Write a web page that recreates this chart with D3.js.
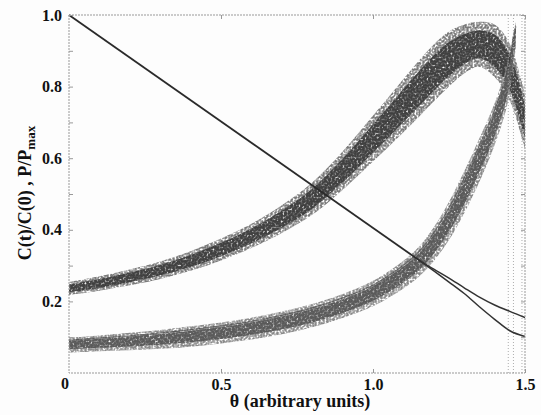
<!DOCTYPE html>
<html>
<head>
<meta charset="utf-8">
<script src="https://cdn.jsdelivr.net/npm/d3@7"></script>
<style>
    body { margin: 0; background: #fdfdfd; }
    svg { display: block; }
</style>
</head>
<body>
<svg id="chart" width="541" height="415" font-family="Liberation Serif, DejaVu Serif, Times, serif" font-weight="bold"></svg>
<script>
// C(t)/C(0): straight decay, then it splits in two branches
const cMainX = [0, 1.15];
const cMainY = [1.0, 0.316];
const cBranchX = [1.15, 1.2, 1.25, 1.3, 1.35, 1.4, 1.45, 1.5];
const cBranchUpY = [0.316, 0.29, 0.265, 0.238, 0.212, 0.19, 0.172, 0.155];
const cBranchLowY = [0.316, 0.285, 0.254, 0.222, 0.185, 0.15, 0.118, 0.102];

// P/Pmax, upper band (centre and vertical half width)
const pUpX = [0, 0.1, 0.2, 0.3, 0.4, 0.5, 0.6, 0.7, 0.8, 0.9, 1.0, 1.05, 1.1, 1.15, 1.2, 1.25, 1.3, 1.35, 1.4, 1.45, 1.5];
const pUpMid = [0.236, 0.25, 0.267, 0.287, 0.313, 0.345, 0.383, 0.43, 0.487, 0.565, 0.655, 0.7, 0.747, 0.793, 0.838, 0.877, 0.905, 0.918, 0.9, 0.84, 0.70];
const pUpHalf = [0.017, 0.019, 0.021, 0.023, 0.026, 0.029, 0.032, 0.037, 0.043, 0.051, 0.061, 0.066, 0.071, 0.075, 0.076, 0.073, 0.065, 0.06, 0.07, 0.076, 0.072];

// P/Pmax, lower band (several runs overlapping)
const pLowX = [0, 0.1, 0.2, 0.3, 0.4, 0.5, 0.6, 0.7, 0.8, 0.9, 1.0, 1.1, 1.15, 1.2, 1.25, 1.3, 1.35, 1.4, 1.44, 1.46, 1.47];
const pLowMid = [0.078, 0.083, 0.088, 0.094, 0.102, 0.112, 0.124, 0.14, 0.16, 0.187, 0.222, 0.275, 0.31, 0.36, 0.425, 0.505, 0.595, 0.695, 0.8, 0.895, 0.945];
const pLowHalf = [0.02, 0.021, 0.023, 0.025, 0.027, 0.028, 0.029, 0.03, 0.031, 0.032, 0.034, 0.037, 0.04, 0.045, 0.051, 0.056, 0.058, 0.056, 0.054, 0.047, 0.033];

// faint vertical traces at the right edge
const dropX = [1.445, 1.462, 1.49];

const xTicks = [0.5, 1.0, 1.5];
const yTicks = [0.1, 0.2, 0.3, 0.4, 0.5, 0.6, 0.7, 0.8, 0.9, 1.0];

const svg = d3.select('#chart');
const margin = {top: 15, right: 16, bottom: 42, left: 69};
const width = +svg.attr('width') - margin.left - margin.right;
const height = +svg.attr('height') - margin.top - margin.bottom;

const defs = svg.append('defs');
function grainFilter(id, freq, seed, gain, offset, blur) {
    const f = defs.append('filter').attr('id', id)
        .attr('x', '-5%').attr('y', '-5%').attr('width', '110%').attr('height', '110%');
    f.append('feTurbulence').attr('type', 'fractalNoise').attr('baseFrequency', freq)
        .attr('numOctaves', 3).attr('seed', seed).attr('result', 'n');
    f.append('feColorMatrix').attr('in', 'n').attr('type', 'matrix')
        .attr('values', `0 0 0 0 0  0 0 0 0 0  0 0 0 0 0  ${gain} 0 0 0 ${offset}`).attr('result', 'a');
    f.append('feComposite').attr('in', 'SourceGraphic').attr('in2', 'a').attr('operator', 'in').attr('result', 'g');
    f.append('feGaussianBlur').attr('in', 'g').attr('stdDeviation', blur);
}
grainFilter('grainA', 0.5, 4, 3.4, -1.0, 0.55);
grainFilter('grainB', 0.5, 9, 3.0, -0.6, 0.5);

const soft = defs.append('filter').attr('id', 'soft');
soft.append('feGaussianBlur').attr('stdDeviation', 0.45);

const g = svg.append('g')
    .attr('transform', `translate(${margin.left},${margin.top})`);

const x = d3.scaleLinear().domain([0, 1.5]).range([0, width]);
const y = d3.scaleLinear().domain([0, 1]).range([height, 0]);

// bands
function band(xs, mid, half, k) {
    return d3.area()
        .x((d, i) => x(xs[i]))
        .y0((d, i) => y(mid[i] - half[i] * k))
        .y1((d, i) => y(mid[i] + half[i] * k))
        .curve(d3.curveCatmullRom)(xs);
}

// upper band: dark core, grey fringe
g.append('path').attr('d', band(pUpX, pUpMid, pUpHalf, 1.05))
    .attr('fill', '#7a7a7a').attr('filter', 'url(#grainA)');
g.append('path').attr('d', band(pUpX, pUpMid, pUpHalf, 0.65))
    .attr('fill', '#404040').attr('filter', 'url(#grainB)');

// lower band: lighter, mottled
g.append('path').attr('d', band(pLowX, pLowMid, pLowHalf, 1.05))
    .attr('fill', '#8a8a8a').attr('filter', 'url(#grainA)');
g.append('path').attr('d', band(pLowX, pLowMid, pLowHalf, 0.6))
    .attr('fill', '#5a5a5a').attr('filter', 'url(#grainB)');

// darker edge on the lower band
g.append('path')
    .attr('d', d3.line().x((d, i) => x(pLowX[i])).y((d, i) => y(pLowMid[i] + pLowHalf[i] * 0.7))
        .curve(d3.curveCatmullRom)(pLowX))
    .attr('fill', 'none').attr('stroke', '#333').attr('stroke-width', 1.2)
    .attr('opacity', 0.55).attr('filter', 'url(#soft)');

// vertical traces
g.selectAll('.drop')
    .data(dropX)
    .enter().append('line')
    .attr('x1', d => x(d)).attr('x2', d => x(d))
    .attr('y1', y(0)).attr('y2', y(1))
    .attr('stroke', '#999').attr('stroke-width', 1)
    .attr('stroke-dasharray', '1,2').attr('opacity', 0.8);

// C(t)/C(0) line
const cLine = d3.line().x(d => x(d[0])).y(d => y(d[1])).curve(d3.curveMonotoneX);
g.append('path').attr('d', cLine(cMainX.map((v, i) => [v, cMainY[i]])))
    .attr('fill', 'none').attr('stroke', '#2a2a2a').attr('stroke-width', 1.8).attr('filter', 'url(#soft)');
[cBranchUpY, cBranchLowY].forEach(ys => {
    g.append('path').attr('d', cLine(cBranchX.map((v, i) => [v, ys[i]])))
        .attr('fill', 'none').attr('stroke', '#333').attr('stroke-width', 1.5).attr('filter', 'url(#soft)');
});

// frame
g.append('rect')
    .attr('width', width).attr('height', height)
    .attr('fill', 'none').attr('stroke', '#999').attr('stroke-width', 1)
    .attr('stroke-dasharray', '2,1');

// axes with inward ticks
const fmtX = d => d.toFixed(1);
const fmtY = d => (Math.round(d * 10) % 2 === 0 ? d.toFixed(1) : '');

g.append('g').attr('class', 'axis')
    .attr('transform', `translate(0,${height})`)
    .call(d3.axisBottom(x).tickValues(xTicks).tickFormat(fmtX).tickSizeInner(-4).tickSizeOuter(0).tickPadding(6));
g.append('g').attr('class', 'axis')
    .call(d3.axisTop(x).tickValues(xTicks).tickFormat('').tickSizeInner(-4).tickSizeOuter(0));
g.append('g').attr('class', 'axis')
    .call(d3.axisLeft(y).tickValues(yTicks).tickFormat(fmtY).tickSizeInner(-4).tickSizeOuter(0).tickPadding(7));
g.append('g').attr('class', 'axis')
    .attr('transform', `translate(${width},0)`)
    .call(d3.axisRight(y).tickValues(yTicks).tickFormat('').tickSizeInner(-4).tickSizeOuter(0));

svg.selectAll('.axis').attr('font-family', null).attr('font-size', 16);
svg.selectAll('.axis .domain').remove();
svg.selectAll('.axis line').attr('stroke', '#999');
svg.selectAll('.axis text').attr('fill', '#111');

// shared origin label
g.append('text')
    .attr('x', -4).attr('y', height + 16)
    .attr('text-anchor', 'middle')
    .attr('font-size', 16).attr('fill', '#111')
    .text('0');

// axis titles
svg.append('text')
    .attr('x', 300).attr('y', 407)
    .attr('text-anchor', 'middle')
    .attr('font-size', 18).attr('fill', '#111')
    .text('\u03b8 (arbitrary units)');

const yl = svg.append('text')
    .attr('transform', 'translate(31,193) rotate(-90)')
    .attr('text-anchor', 'middle')
    .attr('font-size', 18).attr('fill', '#111');
yl.append('tspan').text('C(t)/C(0) , P/P');
yl.append('tspan').attr('dy', 4).attr('font-size', 13).text('max');
</script>
</body>
</html>
